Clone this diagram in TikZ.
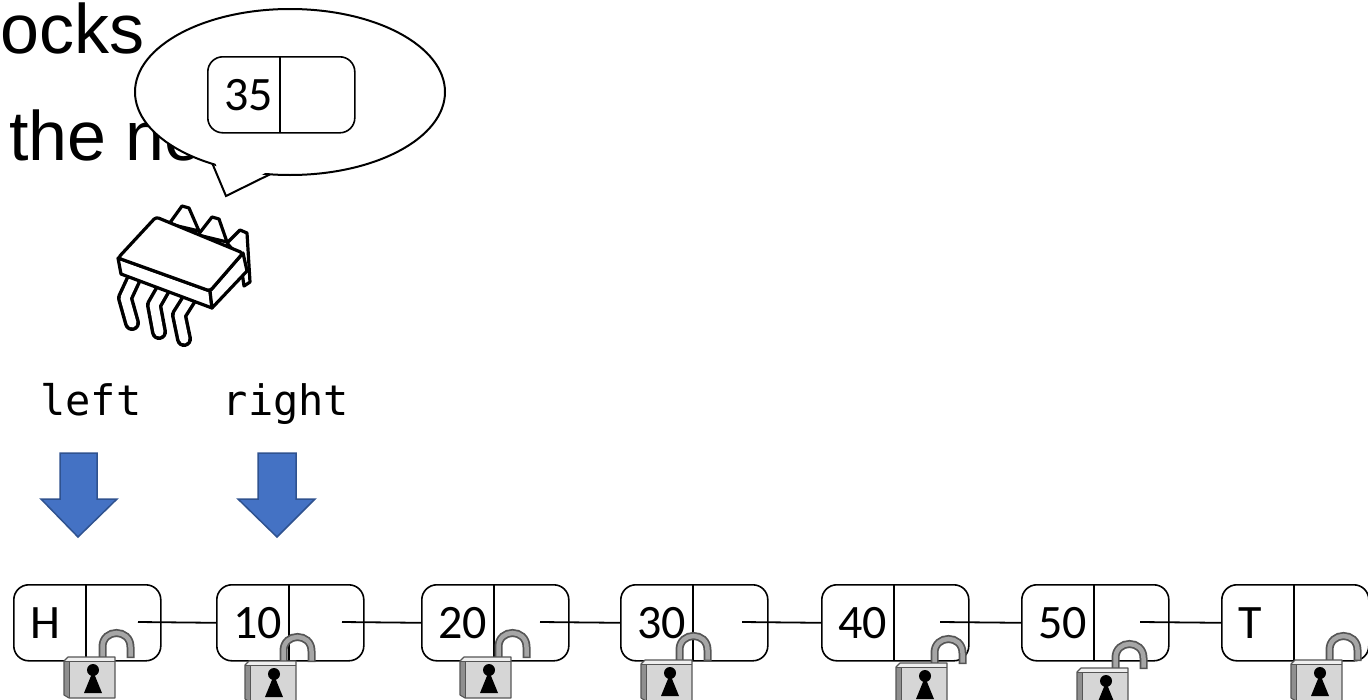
\documentclass[tikz,border=0pt]{standalone}
\usepackage{fontspec}
\setmainfont{Liberation Sans}
\newfontfamily\cellfont{Carlito}
\newfontfamily\codefont{DejaVu Sans Mono}
\definecolor{arrowfill}{HTML}{4472C4}
\definecolor{arrowedge}{HTML}{2F528F}
\definecolor{shackleedge}{HTML}{555555}
\definecolor{shacklefill}{HTML}{A6A6A6}
\definecolor{lockfront}{HTML}{D6D6D6}
\definecolor{locktop}{HTML}{EFEFEF}
\definecolor{lockside}{HTML}{8F8F8F}
\begin{document}
\begin{tikzpicture}[x=1pt,y=-1pt,
  cell/.style={draw=black, line width=1.6pt, rounded corners=15pt, fill=white,
    minimum width=147pt, minimum height=76pt, inner sep=0pt, anchor=north west},
  divider/.style={draw=black, line width=1.3pt},
  celltext/.style={font=\cellfont\fontsize{48}{57}\selectfont, inner sep=0pt, anchor=base west},
  codelabel/.style={font=\codefont\fontsize{42}{50}\selectfont, inner sep=0pt, anchor=base},
  slidetext/.style={font=\fontsize{70}{84}\selectfont, inner sep=0pt, anchor=base west},
  link/.style={draw=black, line width=1.8pt},
  bluearrow/.style={fill=arrowfill, draw=arrowedge, line width=1.5pt, line join=miter},
  chipline/.style={draw=black, line width=3.2pt, line join=round, fill=white},
  lock/.pic={
    % open shackle
    \draw[line width=8pt, draw=shackleedge] (38.5,3) -- (38.5,-10)
      .. controls (38.5,-28.7) and (66.5,-28.7) .. (66.5,-10) -- (66.5,1);
    \draw[line width=4.5pt, draw=shacklefill] (38.5,2) -- (38.5,-10)
      .. controls (38.5,-28.7) and (66.5,-28.7) .. (66.5,-10) -- (66.5,-0.5);
    % body
    \fill[lockside] (0,4) -- (5,4) -- (5,41) -- (0,38) -- cycle;
    \fill[locktop] (0,4) -- (4,0) -- (51,0) -- (51,4) -- cycle;
    \fill[lockfront] (5,4) rectangle (51,41);
    \draw[shackleedge, line width=1.1pt, line join=round]
      (0,4) -- (4,0) -- (51,0) -- (51,41) -- (5,41) -- (0,38) -- cycle;
    \draw[shackleedge, line width=0.8pt] (0,4) -- (51,4) (5,4) -- (5,41);
    % keyhole
    \fill[black] (29,13) circle[radius=6];
    \fill[black] (29,14) -- (20,36) -- (38,36) -- cycle;
  }
]
\useasboundingbox (0,0) rectangle (1368,699);
\clip (0,0) rectangle (1368,699);

% slide text behind the speech bubble
\node[slidetext] (title1) at (0.5,53) {ocks};
\node[slidetext] (title2) at (9,160) {the no};

% speech bubble with its tail
\draw[fill=white, line width=2pt] (290,92) ellipse [x radius=155, y radius=83];
\fill[white] (214.5,160.5) -- (226,193) -- (269,171) -- cycle;
\draw[line width=2pt, line join=miter] (212.5,163.9) -- (226,196) -- (270,174.3);

% node held in the bubble
\node[cell] (nNew) at (207,56) {};
\draw[divider] (nNew.north west) ++(73,0) -- ++(0,76);
\node[celltext] (tNew) at (224,110) {35};

% the chip: back pins
\draw[chipline] (169,224) -- (182,206) -- (189,208) -- (199,231) -- cycle;
\draw[chipline] (198,235) -- (212,217) -- (219,219) -- (227,242) -- cycle;
\draw[chipline] (227,243) -- (240,230) -- (247,233) -- (250,282) -- (244,286) -- (240,258) -- cycle;
% the chip: front legs
\foreach \a/\b/\c in {{(137,272)}/{(125,298)}/{(132,323)},
                      {(166,284)}/{(154,305)}/{(159,332)},
                      {(191,296)}/{(179,315)}/{(184,339)}}{
  \draw[line width=16pt, line cap=round, line join=round] \a -- \b -- \c;
  \draw[line width=9pt, white, line cap=round, line join=round] \a -- \b -- \c;
}
% the chip: body
\draw[chipline] (118,258) -- (121,274) -- (212,308) -- (210,291) -- cycle;
\draw[chipline] (210,291) -- (243,253) -- (247,271) -- (212,308) -- cycle;
\draw[chipline, rounded corners=3pt] (118,258) -- (156,217) -- (243,253) -- (210,291) -- cycle;

% pointer labels and arrows
\node[codelabel] (lblLeft) at (91,415) {left};
\node[codelabel] (lblRight) at (286,415) {right};
\draw[bluearrow] (60,453) -- (97,453) -- (97,499) -- (117,499) -- (78,537)
  -- (41,499) -- (60,499) -- cycle;
\draw[bluearrow] (258,453) -- (296,453) -- (296,499) -- (315,499) -- (277,537)
  -- (238,499) -- (258,499) -- cycle;

% list nodes
\foreach \nm/\x/\txt in {nH/13/H, n10/216/10, n20/421/20, n30/620/30,
                         n40/821/40, n50/1021/50, nT/1221/T}{
  \node[cell] (\nm) at (\x,584) {};
  \draw[divider] (\nm.north west) ++(73,0) -- ++(0,76);
  \node[celltext] (\nm-key) at (\x+17,638) {\txt};
}

% next pointers
\coordinate (pH)  at (138,622);
\coordinate (p10) at (342,622);
\coordinate (p20) at (540,622);
\coordinate (p30) at (742,622);
\coordinate (p40) at (940,622);
\coordinate (p50) at (1140,622);
\draw[link] (pH)  -- (n10.west);
\draw[link] (p10) -- (n20.west);
\draw[link] (p20) -- (n30.west);
\draw[link] (p30) -- (n40.west);
\draw[link] (p40) -- (n50.west);
\draw[link] (p50) -- (nT.west);

% one lock per node
\pic at (64,657)   {lock};
\pic at (245,661)  {lock};
\pic at (460,657)  {lock};
\pic at (641,660)  {lock};
\pic at (896,663)  {lock};
\pic at (1077,668) {lock};
\pic at (1291,660) {lock};
\end{tikzpicture}
\end{document}
